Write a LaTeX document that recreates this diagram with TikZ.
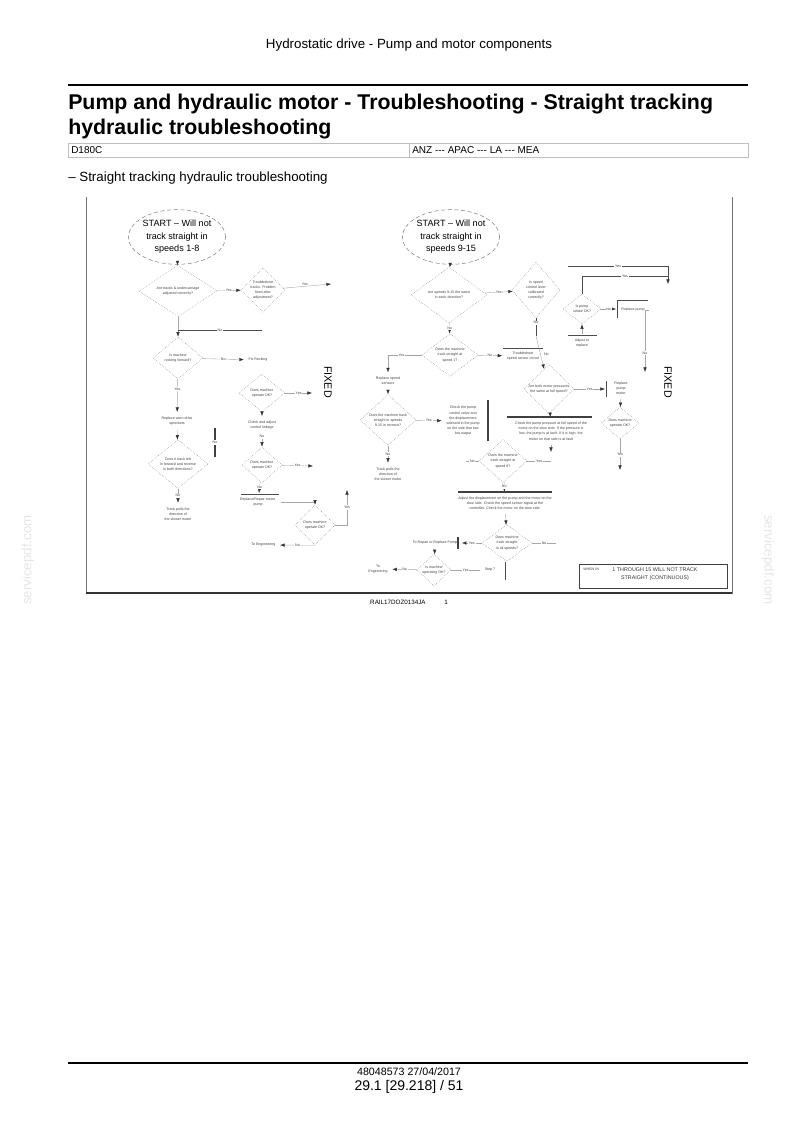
\documentclass[tikz,border=0pt]{standalone}
\usepackage{fontspec}
\setmainfont{Liberation Sans}
\usetikzlibrary{arrows.meta,positioning,shapes.geometric}

\begin{document}
\begin{tikzpicture}[
    x=0.75pt, y=-0.75pt,
    txt/.style={font=\fontsize{2.7}{3.9}\selectfont, text=black!75, align=center},
    dec/.style 2 args={diamond, draw=black!45, densely dotted, txt, inner sep=0pt,
                minimum width=#1*0.75pt, minimum height=#2*0.75pt},
    startbox/.style={ellipse, draw=black!50, densely dashed, align=center,
                font=\fontsize{6.8}{9.3}\selectfont, inner sep=0pt,
                minimum width=70pt, minimum height=41pt},
    lbl/.style={txt, fill=white, inner sep=0.6pt},
    arrow/.style={-{Latex[length=1.2mm, width=0.9mm, color=black!80]}, black!35, line width=0.3pt},
    link/.style={black!35, line width=0.3pt},
    rule/.style={black!70, line width=0.5pt},
    bar/.style={black!75, line width=0.9pt},
    fixedlbl/.style={font=\fontsize{8}{9}\selectfont, rotate=-90},
    wmark/.style={text=black!10, font=\fontsize{10}{11}\selectfont}
]
\useasboundingbox (0,0) rectangle (794,1124);

% page head
\node[anchor=base, font=\fontsize{10}{12}\selectfont] (head) at (409,49) {Hydrostatic drive - Pump and motor components};
\draw[line width=1.1pt] (68,85) -- (748,85);
\node[anchor=base west, inner sep=0pt, font=\fontsize{16}{19}\bfseries\selectfont] (title1) at (68,109) {Pump and hydraulic motor - Troubleshooting - Straight tracking};
\node[anchor=base west, inner sep=0pt, font=\fontsize{16}{19}\bfseries\selectfont] (title2) at (68,134) {hydraulic troubleshooting};
\draw[black!25, line width=0.4pt] (68,143) rectangle (748,157) (409,143) -- (409,157);
\node[anchor=base west, inner sep=0pt, font=\fontsize{7.5}{9}\selectfont] (model) at (71,153) {D180C};
\node[anchor=base west, inner sep=0pt, font=\fontsize{7.5}{9}\selectfont] (region) at (412,153) {ANZ -{}-{}- APAC -{}-{}- LA -{}-{}- MEA};
\node[anchor=base west, inner sep=0pt, font=\fontsize{10}{12}\selectfont] (sub) at (68,181) {– Straight tracking hydraulic troubleshooting};

% figure frame
\draw[black!55, line width=0.6pt] (86,197) -- (86,594);
\draw[black!55, line width=0.6pt] (732,197) -- (732,594);
\draw[black!80, line width=1.4pt] (86,593) -- (732,593);
\node[font=\fontsize{4.7}{5}\selectfont] (figref) at (409,602) {RAIL17DOZ0134JA\hspace{14pt}1};
\node[wmark, rotate=90] (wm1) at (28,560) {servicepdf.com};
\node[wmark, rotate=-90] (wm2) at (768,560) {servicepdf.com};

% speeds 1-8
\node[startbox] (st1) at (177,237) {START – Will not\\track straight in\\speeds 1-8};
\node[dec={78}{44}] (d1) at (178,291) {Are tracks \& undercarriage\\adjusted correctly?};
\node[dec={44}{44}] (d2) at (263,290) {Troubleshoot\\tracks. Problem\\fixed after\\adjustment?};
\coordinate (fx1) at (331,284);
\coordinate (j1) at (178,330);
\coordinate (j1e) at (262,330);
\node[dec={50}{42}] (d3) at (178,358) {Is machine\\rocking forward?};
\node[txt] (rock) at (258,360) {Fix Rocking};
\node[dec={46}{38}] (d4) at (262,393) {Does machine\\operate OK?};
\coordinate (fx2) at (312,393);
\node[txt] (rep1) at (177,421) {Replace worn drive\\sprockets};
\node[txt] (chk1) at (262,425) {Check and adjust\\control linkage};
\coordinate (b1t) at (215,428);
\coordinate (b1b) at (215,457);
\node[dec={60}{42}] (d5) at (178,464) {Does it track left\\in forward and reverse\\in both directions?};
\node[dec={40}{36}] (d6) at (262,465) {Does machine\\operate OK?};
\coordinate (fx3) at (313,466);
\coordinate (l2a) at (241,494);
\coordinate (l2b) at (279,494);
\node[txt] (rep2) at (258,502) {Replace/Repair motor,\\pump};
\node[txt] (trk1) at (178,514) {Track pulls the\\direction of\\the slower motor};
\node[dec={40}{40}] (d7) at (315,525) {Does machine\\operate OK?};
\coordinate (fx4) at (347,490);
\node[txt, anchor=east] (eng1) at (280,545) {To Engineering};
\node[fixedlbl] (fixed1) at (328,382) {FIXED};

\draw[arrow] (st1) -- (d1);
\draw[arrow] (d1) -- node[lbl] {Yes} (d2);
\draw[arrow] (d2) -- node[lbl, above, pos=0.45] {Yes} (fx1);
\draw[arrow] (d1) -- (d3);
\draw[rule] (j1) -- node[lbl] {No} (j1e);
\draw[arrow] (d3) -- node[lbl] {No} (rock);
\draw[arrow] (d3) -- node[lbl, pos=0.3] {Yes} (rep1);
\draw[arrow] (d4) -- node[lbl] {Yes} (fx2);
\draw[arrow] (d4) -- (chk1);
\draw[arrow] (chk1) -- node[lbl, pos=0.2] {No} (d6);
\draw[bar] (b1t) -- node[lbl] {No} (b1b);
\draw[arrow] (rep1) -- (d5);
\draw[arrow] (d5) -- node[lbl] {No} (trk1);
\draw[arrow] (d6) -- node[lbl] {Yes} (fx3);
\draw[arrow] (d6) -- node[lbl] {No} (rep2);
\draw[rule] (l2a) -- (l2b);
\draw[arrow] (rep2) -| (d7);
\draw[arrow] (d7.east) -| node[lbl, pos=0.75] {Yes} (fx4);
\draw[arrow] (d7.south) -- node[lbl] {No} (eng1);

% speeds 9-15
\node[startbox] (st2) at (451,237) {START – Will not\\track straight in\\speeds 9-15};
\node[dec={76}{56}] (d8) at (449,295) {Are speeds 9-15 the same\\in each direction?};
\node[dec={48}{56}] (d9) at (536,290) {Is speed\\control lever\\calibrated\\correctly?};
\coordinate (d9s) at (536,336);
\coordinate (t1) at (568,266);
\coordinate (t2) at (668,266);
\coordinate (t3) at (668,276);
\coordinate (fx5) at (668,284);
\node[dec={38}{30}] (d10) at (582,309) {Is pump\\stroke OK?};
\coordinate (b2m) at (616,309);
\coordinate (b2t) at (617,300);
\coordinate (b2b) at (617,318);
\coordinate (b2r) at (648,300);
\node[txt] (rep11) at (633,310) {Replace pump};
\coordinate (n2) at (645,372);
\coordinate (l3a) at (568,335);
\coordinate (l3b) at (597,335);
\node[txt] (rep10) at (582,343) {Adjust or\\replace};
\node[dec={56}{34}] (d11) at (450,355) {Does the machine\\track straight at\\speed 1?};
\node[txt] (rep3) at (388,381) {Replace speed\\sensors};
\coordinate (l4a) at (503,348);
\coordinate (l4b) at (543,348);
\node[txt] (rep4) at (523,356) {Troubleshoot\\speed sensor circuit};
\node[dec={56}{40}] (d12) at (388,420) {Does the machine track\\straight in speeds\\9-15 in reverse?};
\node[txt] (rep5) at (463,421) {Check the pump\\control valve and\\the displacement\\solenoid in the pump\\on the side that has\\low output};
\coordinate (b3t) at (488,400);
\coordinate (b3b) at (488,441);
\node[txt] (rep6) at (388,474) {Track pulls the\\direction of\\the slower motor};
\node[dec={50}{38}] (d13) at (549,389) {Are both motor pressures\\the same at full speed?};
\coordinate (b4m) at (605,389);
\coordinate (b4t) at (606,381);
\coordinate (b4b) at (606,397);
\node[txt] (rep7) at (621,388) {Replace\\pump\\motor};
\node[fixedlbl] (fixed2) at (668,382) {FIXED};
\coordinate (l5a) at (507,417);
\coordinate (l5b) at (592,417);
\node[txt] (rep8) at (551,431) {Check the pump pressure at full speed of the\\motor on the slow side. If the pressure is\\low, the pump is at fault. If it is high, the\\motor on that side is at fault};
\node[dec={38}{32}] (d14) at (620,423) {Does machine\\operate OK?};
\coordinate (fx6) at (620,470);
\coordinate (fx7) at (551,452);
\node[dec={48}{30}] (d15) at (503,461) {Does the machine\\track straight at\\speed 8?};
\coordinate (d15w) at (466,461);
\coordinate (d15e) at (551,461);
\coordinate (l6a) at (458,492);
\coordinate (l6b) at (552,492);
\node[txt] (rep9) at (505,503) {Adjust the displacement on the pump and the motor on the\\slow side. Check the speed sensor signal at the\\controller. Check the motor on the slow side.};
\node[dec={50}{34}] (d16) at (507,543) {Does machine\\track straight\\in all speeds?};
\coordinate (b5t) at (458,537);
\coordinate (b5b) at (458,549);
\node[txt] (pump) at (435,543) {To Repair or Replace Pump};
\coordinate (d16e) at (556,543);
\node[dec={34}{32}] (d17) at (434,570) {Is machine\\operating OK?};
\node[txt] (eng2) at (378,569) {To\\Engineering};
\node[txt] (step7) at (490,570) {Step 7};
\coordinate (b6t) at (505,562);
\coordinate (b6b) at (505,580);
\node[draw=black!75, line width=0.6pt, minimum width=111pt, minimum height=18pt] (note) at (653,576) {};
\node[txt, anchor=north west] (when) at (note.north west) {WHEN IN};
\node[align=center, font=\fontsize{4}{6}\selectfont, text=black!80] (notetxt) at (655,574) {1 THROUGH 15 WILL NOT TRACK\\STRAIGHT (CONTINUOUS)};

\draw[arrow] (st2) -- (d8);
\draw[arrow] (d8) -- node[lbl] {Yes} (d9);
\draw[rule] (d9) -- node[lbl, pos=0.25] {No} (d9s);
\draw[rule] (t1) -- node[lbl] {Yes} (t2);
\draw[arrow, black!70] (t2) -- (fx5);
\draw[rule] (d10.north) |- node[lbl, pos=0.75] {Yes} (t3);
\draw[arrow] (d10) -- node[lbl] {No} (b2m);
\draw[rule] (b2b) -- (b2t) -- (b2r);
\draw[arrow] (rep11.east) -| node[lbl, pos=0.85] {No} (n2);
\draw[arrow] (rep10) -- (d10);
\draw[rule] (l3a) -- (l3b);
\draw[arrow] (d8) -- node[lbl] {No} (d11);
\draw[arrow] (d11) -| node[lbl, pos=0.3] {Yes} (rep3);
\draw[arrow] (d11) -- node[lbl] {No} (rep4);
\draw[rule] (l4a) -- (l4b);
\draw[arrow] (d9s) -- node[lbl, pos=0.55, right=2pt] {No} (d13);
\draw[arrow] (rep3) -- (d12);
\draw[arrow] (d12) -- node[lbl] {Yes} (rep5);
\draw[bar] (b3t) -- (b3b);
\draw[arrow] (d12) -- node[lbl] {No} (rep6);
\draw[arrow] (d13) -- node[lbl] {Yes} (b4m);
\draw[rule] (b4t) -- (b4b);
\draw[arrow] (d13) -- (rep8);
\draw[bar] (l5a) -- (l5b);
\draw[arrow] (rep7) -- (d14);
\draw[arrow] (d14) -- node[lbl] {Yes} (fx6);
\draw[arrow] (rep8) -- (fx7);
\draw[link] (d15) -- node[lbl] {No} (d15w);
\draw[link] (d15) -- node[lbl] {Yes} (d15e);
\draw[arrow] (d15) -- node[lbl] {No} (rep9);
\draw[bar] (l6a) -- (l6b);
\draw[arrow] (rep9) -- (d16);
\draw[arrow] (d16) -- node[lbl] {Yes} (pump);
\draw[bar] (b5t) -- (b5b);
\draw[link] (d16) -- node[lbl] {No} (d16e);
\draw[arrow] (pump) -- (d17);
\draw[arrow] (d17) -- node[lbl] {No} (eng2);
\draw[link] (d17) -- node[lbl] {Yes} (step7);
\draw[rule] (b6t) -- (b6b);

% page foot
\draw[line width=1.1pt] (68,1063) -- (748,1063);
\node[anchor=base, font=\fontsize{8}{9}\selectfont] (docno) at (409,1075) {48048573 27/04/2017};
\node[anchor=base, font=\fontsize{10.5}{12}\selectfont] (pageno) at (409,1090) {29.1 [29.218] / 51};
\end{tikzpicture}
\end{document}
